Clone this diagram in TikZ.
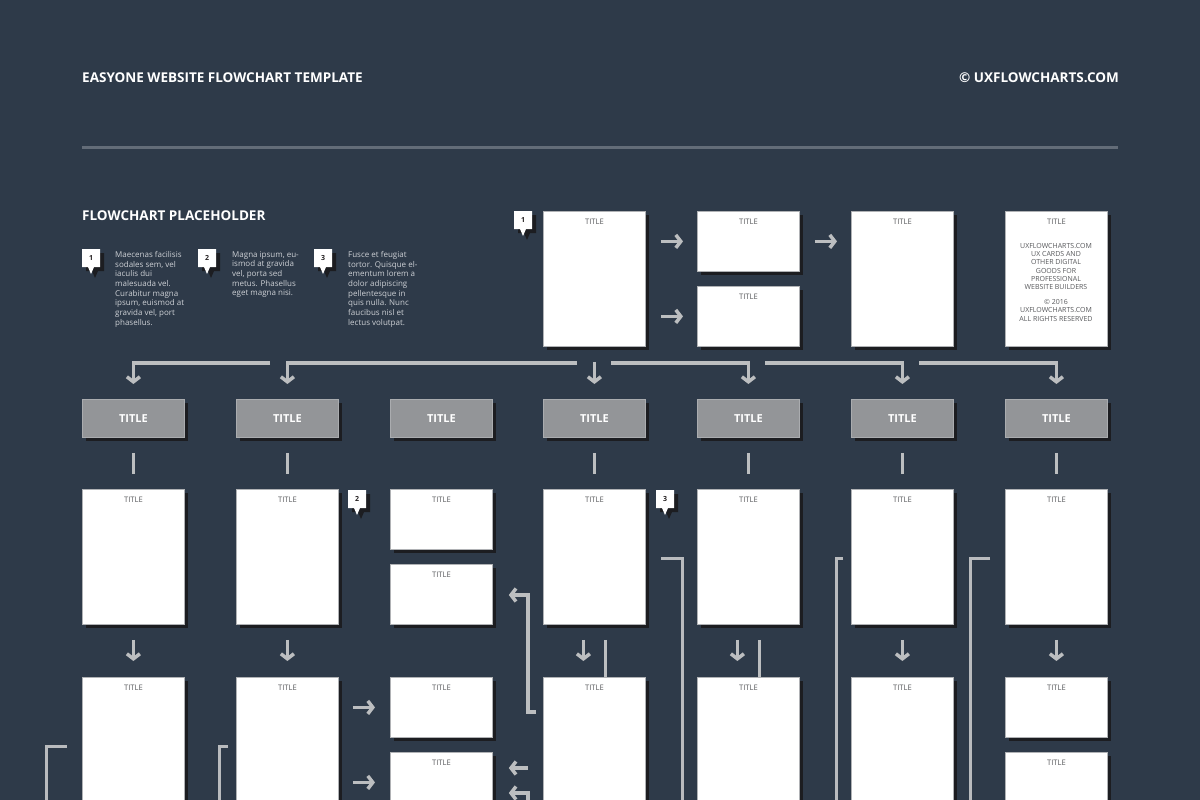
\documentclass[tikz,border=0pt]{standalone}
\usepackage{fontspec}
\setmainfont{Open Sans}
\usetikzlibrary{arrows.meta,shadows}
\definecolor{bgc}{RGB}{46,58,73}
\definecolor{hline}{RGB}{99,108,120}
\definecolor{arrc}{RGB}{188,190,192}
\definecolor{brkc}{RGB}{185,187,190}
\definecolor{shadowc}{RGB}{28,29,33}
\definecolor{cardb}{RGB}{176,178,181}
\definecolor{tgrey}{RGB}{147,149,152}
\definecolor{tborder}{RGB}{170,172,175}
\definecolor{lblc}{RGB}{88,89,92}
\definecolor{legc}{RGB}{205,208,213}
\definecolor{numc}{RGB}{35,31,32}
\newcommand\callout[4]{%
  \fill[shadowc,shift={(#2+4,#3+4)}] (0,0) -- (18,0) -- (18,18) -- (12,18) -- (9,25) -- (6,18) -- (0,18) -- cycle;
  \fill[white,shift={(#2,#3)}] (0,0) -- (18,0) -- (18,18) -- (12,18) -- (9,25) -- (6,18) -- (0,18) -- cycle;
  \node[numlbl] (#1) at (#2+9,#3+9) {#4};}
\begin{document}
\begin{tikzpicture}[x=1pt,y=-1pt,
  arr/.style={draw=arrc, line width=3.5pt, -{Straight Barb[length=5pt,width=13pt]}},
  ln/.style={draw=arrc, line width=3.5pt},
  brk/.style={draw=brkc, line width=3pt},
  card/.style={rectangle, fill=white, draw=cardb, line width=0.8pt, minimum width=102pt, inner sep=0pt, anchor=north west,
    drop shadow={shadow xshift=4pt, shadow yshift=-4pt, fill=shadowc, opacity=1}},
  tall/.style={card, minimum height=135pt},
  short/.style={card, minimum height=60pt},
  lbl/.style={font=\fontsize{7.6}{8}\selectfont, text=lblc, inner sep=0pt, anchor=north, yshift=-8pt},
  tbox/.style={card, minimum height=38pt, fill=tgrey, draw=tborder, font=\fontsize{11}{13}\bfseries\selectfont, text=white},
  numlbl/.style={font=\fontsize{7}{8}\bfseries\selectfont, text=numc, inner sep=0pt},
  head/.style={font=\fontsize{13.5}{15}\bfseries\selectfont, text=white, inner sep=0pt},
  legend/.style={font=\fontsize{8}{9.7}\selectfont, text=legc, inner sep=0pt, anchor=north west, align=left},
  etext/.style={font=\fontsize{7}{8.3}\selectfont, text=lblc, inner sep=0pt, anchor=north, align=center}
]
\useasboundingbox (0,0) rectangle (1200,800);
\fill[bgc] (0,0) rectangle (1200,800);
\clip (0,0) rectangle (1200,800);

% header
\node[head, anchor=west] (htitle) at (82,78) {EASYONE WEBSITE FLOWCHART TEMPLATE};
\node[head, anchor=east] (hcopy) at (1119,78) {© UXFLOWCHARTS.COM};
\draw[hline, line width=3pt] (82,147) -- (1118,147);
\node[head, anchor=west] (ph) at (82,216) {FLOWCHART PLACEHOLDER};

% legend
\callout{m1}{82}{249}{1}
\callout{m2}{198}{249}{2}
\callout{m3}{314}{249}{3}
\node[legend] (leg1) at (115,251) {Maecenas facilisis\\sodales sem, vel\\iaculis dui\\malesuada vel.\\Curabitur magna\\ipsum, euismod at\\gravida vel, port\\phasellus.};
\node[legend] (leg2) at (232,251) {Magna ipsum, eu-\\ismod at gravida\\vel, porta sed\\metus. Phasellus\\eget magna nisi.};
\node[legend] (leg3) at (348,251) {Fusce et feugiat\\tortor. Quisque el-\\ementum lorem a\\dolor adipiscing\\pellentesque in\\quis nulla. Nunc\\faucibus nisl et\\lectus volutpat.};

% top row
\callout{mt1}{514}{211}{1}
\node[tall, label={[lbl]north:TITLE}] (ra) at (543,211) {};
\node[short, label={[lbl]north:TITLE}] (rb) at (697,211) {};
\node[short, label={[lbl]north:TITLE}] (rc) at (697,286) {};
\node[tall, label={[lbl]north:TITLE}] (rd) at (851,211) {};
\node[tall, label={[lbl]north:TITLE}] (re) at (1005,211) {};
\node[etext] (etxt) at (1056,243) {UXFLOWCHARTS.COM\\UX CARDS AND\\OTHER DIGITAL\\GOODS FOR\\PROFESSIONAL\\WEBSITE BUILDERS\\[6.6pt]© 2016\\UXFLOWCHARTS.COM\\ALL RIGHTS RESERVED};
\draw[arr, shorten <=15pt, shorten >=14pt] (ra.east |- rb) -- (rb.west);
\draw[arr, shorten <=15pt, shorten >=14pt] (ra.east |- rc) -- (rc.west);
\draw[arr, shorten <=15pt, shorten >=14pt] (rb.east) -- (rd.west |- rb);

% title boxes
\foreach \i/\x in {1/82,2/236,3/390,4/543,5/697,6/851,7/1005}{
  \node[tbox] (t\i) at (\x,399) {TITLE};
}

% bus
\coordinate (b1) at (270,363);
\coordinate (b2) at (577,363);
\coordinate (b5) at (611,363);
\coordinate (b6) at (765,363);
\coordinate (b7) at (919,363);
\draw[arr, line join=miter, shorten >=15pt] (b1) -- (t1.north |- b1) -- (t1.north);
\draw[arr, line join=miter, shorten >=15pt] (b2) -- (t2.north |- b2) -- (t2.north);
\draw[arr, shorten <=15pt, shorten >=15pt] (ra.south) -- (t4.north);
\draw[arr, line join=miter, shorten >=15pt] (b5) -- (t5.north |- b5) -- (t5.north);
\draw[arr, line join=miter, shorten >=15pt] (b6) -- (t6.north |- b6) -- (t6.north);
\draw[arr, line join=miter, shorten >=15pt] (b7) -- (t7.north |- b7) -- (t7.north);

% row 2
\node[tall, label={[lbl]north:TITLE}] (p1) at (82,489) {};
\node[tall, label={[lbl]north:TITLE}] (p2) at (236,489) {};
\node[short, label={[lbl]north:TITLE}] (p3a) at (390,489) {};
\node[short, label={[lbl]north:TITLE}] (p3b) at (390,564) {};
\node[tall, label={[lbl]north:TITLE}] (p4) at (543,489) {};
\node[tall, label={[lbl]north:TITLE}] (p5) at (697,489) {};
\node[tall, label={[lbl]north:TITLE}] (p6) at (851,489) {};
\node[tall, label={[lbl]north:TITLE}] (p7) at (1005,489) {};
\callout{m2b}{348}{490}{2}
\callout{m3b}{656}{490}{3}

% ticks
\foreach \i in {1,2,4,5,6,7}{
  \draw[ln, shorten <=15pt, shorten >=15pt] (t\i.south) -- (p\i.north);
}

% row 3
\node[tall, label={[lbl]north:TITLE}] (q1) at (82,677) {};
\node[tall, label={[lbl]north:TITLE}] (q2) at (236,677) {};
\node[short, label={[lbl]north:TITLE}] (q3a) at (390,677) {};
\node[short, label={[lbl]north:TITLE}] (q3b) at (390,752) {};
\node[tall, label={[lbl]north:TITLE}] (q4) at (543,677) {};
\node[tall, label={[lbl]north:TITLE}] (q5) at (697,677) {};
\node[tall, label={[lbl]north:TITLE}] (q6) at (851,677) {};
\node[short, label={[lbl]north:TITLE}] (q7a) at (1005,677) {};
\node[short, label={[lbl]north:TITLE}] (q7b) at (1005,752) {};

% row 2 -> row 3
\draw[arr, shorten <=15pt, shorten >=16pt] (p1.south) -- (q1.north);
\draw[arr, shorten <=15pt, shorten >=16pt] (p2.south) -- (q2.north);
\draw[arr, shorten <=15pt, shorten >=16pt] ([xshift=-11pt]p4.south) -- ([xshift=-11pt]q4.north);
\draw[ln, shorten <=15pt] ([xshift=11pt]p4.south) -- ([xshift=11pt]q4.north);
\draw[arr, shorten <=15pt, shorten >=16pt] ([xshift=-11pt]p5.south) -- ([xshift=-11pt]q5.north);
\draw[ln, shorten <=15pt] ([xshift=11pt]p5.south) -- ([xshift=11pt]q5.north);
\draw[arr, shorten <=15pt, shorten >=16pt] (p6.south) -- (q6.north);
\draw[arr, shorten <=15pt, shorten >=16pt] (p7.south) -- (q7a.north);

% row 3 right arrows
\draw[arr, shorten <=14pt, shorten >=15pt] (q2.east |- q3a) -- (q3a.west);
\draw[arr, shorten <=14pt, shorten >=15pt] (q2.east |- q3b) -- (q3b.west);

% left arrows into column 3
\coordinate (e1) at (536,712);
\coordinate (e2) at (528,768);
\coordinate (e3) at (528,806);
\draw[arr, line join=miter, shorten >=16pt] (e1) -- (528,712) -- (528,595) -- (p3b.east |- 0,595);
\draw[arr, shorten >=16pt] (e2) -- (q3b.east |- e2);
\draw[arr, line join=miter, shorten >=16pt] (e3) -- (528,793) -- (q3b.east |- 0,793);

% brackets
\coordinate (k1) at (661,558);
\coordinate (k2) at (843,558);
\coordinate (k3) at (990,558);
\coordinate (k4) at (67,746);
\coordinate (k5) at (228,746);
\draw[brk, line join=miter] (k1) -- (682,558) -- (682,810);
\draw[brk, line join=miter] (k2) -- (836,558) -- (836,810);
\draw[brk, line join=miter] (k3) -- (970,558) -- (970,810);
\draw[brk, line join=miter] (k4) -- (46,746) -- (46,810);
\draw[brk, line join=miter] (k5) -- (219,746) -- (219,810);
\end{tikzpicture}
\end{document}
